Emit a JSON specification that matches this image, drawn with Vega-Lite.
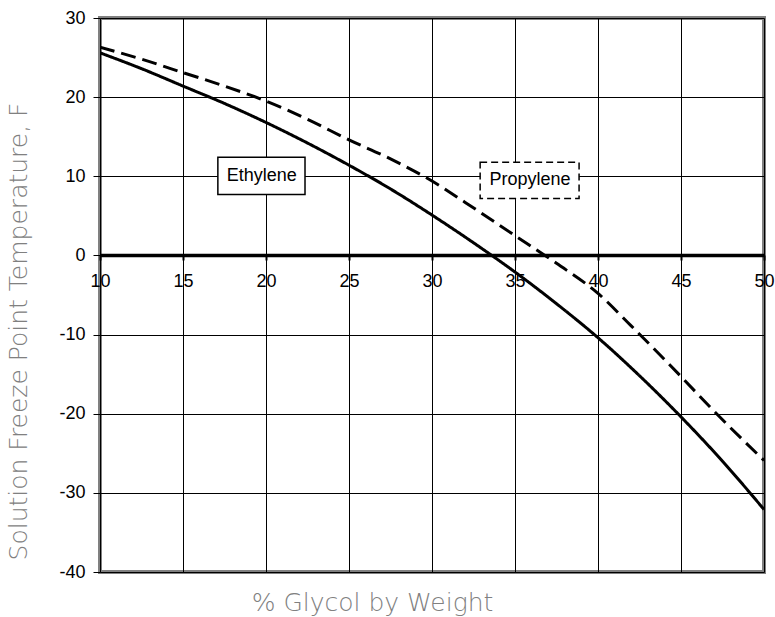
{
  "$schema": "https://vega.github.io/schema/vega-lite/v6.json",
  "width": 664,
  "height": 554,
  "autosize": {"type": "none"},
  "padding": {"left": 100, "top": 18, "right": 11, "bottom": 45},
  "background": "white",
  "config": {
    "view": {"stroke": "#808080", "strokeWidth": 4},
    "axis": {"labelFont": "Arial, Liberation Sans, sans-serif", "labelFontSize": 18, "labelColor": "black"}
  },
  "datasets": {
    "curves": [
      {"series": "Ethylene", "pct": 10, "temp": 25.6},
      {"series": "Ethylene", "pct": 12.5, "temp": 23.6},
      {"series": "Ethylene", "pct": 15, "temp": 21.4},
      {"series": "Ethylene", "pct": 17.5, "temp": 19.2},
      {"series": "Ethylene", "pct": 20, "temp": 16.8},
      {"series": "Ethylene", "pct": 22.5, "temp": 14.2},
      {"series": "Ethylene", "pct": 25, "temp": 11.4},
      {"series": "Ethylene", "pct": 27.5, "temp": 8.4},
      {"series": "Ethylene", "pct": 30, "temp": 5.1},
      {"series": "Ethylene", "pct": 32.5, "temp": 1.6},
      {"series": "Ethylene", "pct": 35, "temp": -2.1},
      {"series": "Ethylene", "pct": 37.5, "temp": -6.1},
      {"series": "Ethylene", "pct": 40, "temp": -10.4},
      {"series": "Ethylene", "pct": 42.5, "temp": -15.2},
      {"series": "Ethylene", "pct": 45, "temp": -20.4},
      {"series": "Ethylene", "pct": 47.5, "temp": -26.0},
      {"series": "Ethylene", "pct": 50, "temp": -32.1},
      {"series": "Propylene", "pct": 10, "temp": 26.3},
      {"series": "Propylene", "pct": 12.5, "temp": 24.8},
      {"series": "Propylene", "pct": 15, "temp": 23.1},
      {"series": "Propylene", "pct": 17.5, "temp": 21.4},
      {"series": "Propylene", "pct": 20, "temp": 19.5},
      {"series": "Propylene", "pct": 22.5, "temp": 17.2},
      {"series": "Propylene", "pct": 25, "temp": 14.6},
      {"series": "Propylene", "pct": 27.5, "temp": 12.2},
      {"series": "Propylene", "pct": 30, "temp": 9.4},
      {"series": "Propylene", "pct": 32, "temp": 6.7},
      {"series": "Propylene", "pct": 35, "temp": 2.5},
      {"series": "Propylene", "pct": 37.5, "temp": -1.0},
      {"series": "Propylene", "pct": 40, "temp": -4.8},
      {"series": "Propylene", "pct": 42, "temp": -8.9},
      {"series": "Propylene", "pct": 45, "temp": -15.3},
      {"series": "Propylene", "pct": 47, "temp": -19.7},
      {"series": "Propylene", "pct": 50, "temp": -25.9}
    ],
    "labels": [
      {"series": "Ethylene", "pct": 17.1, "pct2": 22.35, "temp": 12.4, "temp2": 7.7, "tx": 19.75, "ty": 10.0},
      {"series": "Propylene", "pct": 32.9, "pct2": 38.86, "temp": 11.76, "temp2": 7.2, "tx": 35.9, "ty": 9.5}
    ],
    "zero": [{"temp": 0}]
  },
  "layer": [
    {
      "data": {"name": "curves"},
      "mark": {"type": "line", "strokeWidth": 3, "color": "black", "clip": true, "interpolate": "monotone"},
      "encoding": {
        "x": {
          "field": "pct", "type": "quantitative",
          "scale": {"domain": [10, 50], "nice": false, "zero": false},
          "axis": {
            "orient": "bottom", "offset": -317,
            "values": [10, 15, 20, 25, 30, 35, 40, 45, 50],
            "grid": true, "gridColor": "black", "gridWidth": 1, "gridOpacity": 1,
            "domain": false, "ticks": true, "tickColor": "black", "tickSize": 5, "tickWidth": 2,
            "labelPadding": 12, "labelFlush": false, "labelOverlap": false,
            "title": "% Glycol by Weight", "titleX": 272, "titleY": 347,
            "titleAlign": "center", "titleBaseline": "middle", "titleAnchor": null,
            "titleFont": "DejaVu Sans", "titleFontSize": 25, "titleFontWeight": 200, "titleColor": "#808080"
          }
        },
        "y": {
          "field": "temp", "type": "quantitative",
          "scale": {"domain": [-40, 30], "nice": false, "zero": false},
          "axis": {
            "values": [-40, -30, -20, -10, 0, 10, 20, 30],
            "labelExpr": "datum.value < 0 ? '-' + abs(datum.value) : '' + datum.value",
            "grid": true, "gridColor": "black", "gridWidth": 1, "gridOpacity": 1,
            "domain": false, "tickColor": "black", "tickSize": 7, "tickWidth": 1,
            "labelPadding": 8,
            "title": "Solution Freeze Point Temperature, F", "titleX": -82, "titleY": 313,
            "titleAngle": -90, "titleAlign": "center", "titleBaseline": "middle", "titleAnchor": null,
            "titleFont": "DejaVu Sans", "titleFontSize": 25, "titleFontWeight": 200, "titleColor": "#808080"
          }
        },
        "strokeDash": {
          "field": "series", "type": "nominal",
          "scale": {"domain": ["Ethylene", "Propylene"], "range": [[1, 0], [15, 7]]},
          "legend": null
        }
      }
    },
    {
      "data": {"name": "zero"},
      "mark": {"type": "rule", "color": "black", "strokeWidth": 3.5},
      "encoding": {"y": {"field": "temp", "type": "quantitative"}}
    },
    {
      "data": {"name": "labels"},
      "transform": [{"filter": "datum.series === 'Ethylene'"}],
      "mark": {"type": "rect", "fill": "white", "stroke": "black", "strokeWidth": 1.5},
      "encoding": {
        "x": {"field": "pct", "type": "quantitative"},
        "x2": {"field": "pct2"},
        "y": {"field": "temp", "type": "quantitative"},
        "y2": {"field": "temp2"}
      }
    },
    {
      "data": {"name": "labels"},
      "transform": [{"filter": "datum.series === 'Propylene'"}],
      "mark": {"type": "rect", "fill": "white", "stroke": "black", "strokeWidth": 1.5, "strokeDash": [7, 4]},
      "encoding": {
        "x": {"field": "pct", "type": "quantitative"},
        "x2": {"field": "pct2"},
        "y": {"field": "temp", "type": "quantitative"},
        "y2": {"field": "temp2"}
      }
    },
    {
      "data": {"name": "labels"},
      "mark": {"type": "text", "font": "Arial, Liberation Sans, sans-serif", "fontSize": 18, "color": "black", "align": "center", "baseline": "middle"},
      "encoding": {
        "x": {"field": "tx", "type": "quantitative"},
        "y": {"field": "ty", "type": "quantitative"},
        "text": {"field": "series"}
      }
    }
  ]
}
